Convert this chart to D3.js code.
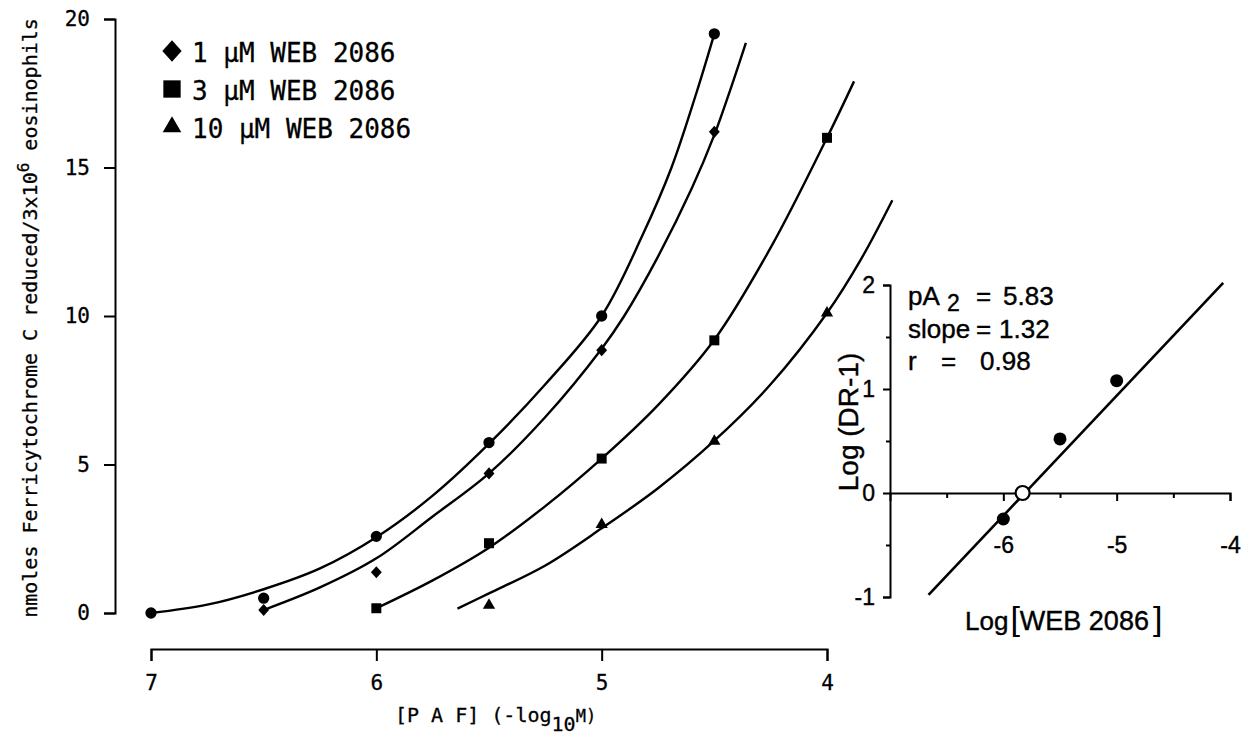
<!DOCTYPE html>
<html>
<head>
<meta charset="utf-8">
<script src="https://cdn.jsdelivr.net/npm/d3@7"></script>
<style>
    body { margin: 0; background: #fff; }
    svg { display: block; }
</style>
</head>
<body>
<div id="chart-container"></div>
<script>
// PAF dose response curves with WEB 2086, plus Schild plot inset
const svgWidth = 1247;
const svgHeight = 736;

const monoFont = "'DejaVu Sans Mono', monospace";
const sansFont = "'Liberation Sans', Arial, sans-serif";

// main chart ticks
const pafTicks = [7, 6, 5, 4];
const responseTicks = [0, 5, 10, 15, 20];

// measured points [ -log PAF, nmoles ]
const controlPoints = [[7, 0], [6.5, 0.5], [6, 2.58], [5.5, 5.74], [5, 10.0], [4.5, 19.5]];
const web1Points = [[6.5, 0.1], [6, 1.37], [5.5, 4.7], [5, 8.85], [4.5, 16.2]];
const web3Points = [[6, 0.16], [5.5, 2.35], [5, 5.2], [4.5, 9.18], [4, 16.0]];
const web10Points = [[5.5, 0.26], [5, 2.98], [4.5, 5.78], [4, 10.1]];

// fitted curves
const controlFit = [[7, 0], [6.75, 0.28], [6.5, 0.8], [6.25, 1.5], [6, 2.55], [5.75, 3.95], [5.5, 5.7],
    [5.25, 7.7], [5, 10.0], [4.82, 12.7], [4.69, 15.0], [4.58, 17.5], [4.5, 19.5]];
const web1Fit = [[6.5, 0.1], [6.25, 0.86], [6, 1.84], [5.75, 3.25], [5.5, 4.7], [5.25, 6.6], [5, 8.9],
    [4.9, 10.0], [4.75, 12.0], [4.6, 14.3], [4.5, 16.1], [4.43, 17.6], [4.36, 19.2]];
const web3Fit = [[6, 0.16], [5.75, 1.1], [5.5, 2.2], [5.25, 3.6], [5, 5.2], [4.75, 7.0], [4.5, 9.2],
    [4.25, 12.3], [4, 16.0], [3.88, 17.9]];
const web10Fit = [[5.64, 0.15], [5.5, 0.66], [5.25, 1.6], [5, 2.85], [4.75, 4.2], [4.5, 5.8], [4.25, 7.7],
    [4, 10.1], [3.85, 11.9], [3.71, 13.9]];

const legendLabels = ["1 \u00b5M WEB 2086", "3 \u00b5M WEB 2086", "10 \u00b5M WEB 2086"];

// inset (Schild plot) data
const schildXTicks = [-6, -5, -4];
const schildXMinor = [-6.5, -5.5, -4.5];
const schildYTicks = [-1, 0, 1, 2];
const schildYMinor = [-0.5, 0.5, 1.5];
const schildPoints = [[-6, -0.25], [-5.5, 0.52], [-5, 1.08]];
const schildPa2 = [[-5.83, 0]];
const schildLine = [[-6.66, -0.98], [-4.06, 2.02]];

// custom diamond, a bit wider than d3's own
const symbolRhomb = {
    draw(context, size) {
        const h = Math.sqrt(size) * 0.62;
        const w = h * 0.9;
        context.moveTo(0, -h);
        context.lineTo(w, 0);
        context.lineTo(0, h);
        context.lineTo(-w, 0);
        context.closePath();
    }
};

const series = [
    { points: controlPoints, fit: controlFit, type: d3.symbolCircle, size: 100 },
    { points: web1Points, fit: web1Fit, type: symbolRhomb, size: 95 },
    { points: web3Points, fit: web3Fit, type: d3.symbolSquare, size: 100 },
    { points: web10Points, fit: web10Fit, type: d3.symbolTriangle, size: 65 }
];

const svg = d3.select("#chart-container")
    .append("svg")
    .attr("width", svgWidth)
    .attr("height", svgHeight)
    .attr("viewBox", `0 0 ${svgWidth} ${svgHeight}`);

// scales
const x = d3.scaleLinear().domain([7, 4]).range([151, 827]);
const y = d3.scaleLinear().domain([0, 20]).range([613, 19]);

// axes
svg.append("g")
    .attr("class", "axis axis-y")
    .attr("transform", "translate(115,0)")
    .call(d3.axisLeft(y).tickValues(responseTicks).tickSize(11).tickPadding(14));

svg.append("g")
    .attr("class", "axis axis-x")
    .attr("transform", "translate(0,649)")
    .call(d3.axisBottom(x).tickValues(pafTicks).tickSize(12).tickPadding(14).tickFormat(d3.format("d")));

svg.selectAll(".axis-x, .axis-y")
    .attr("font-family", monoFont)
    .attr("font-size", 21);
svg.selectAll(".axis text")
    .attr("stroke", "#000")
    .attr("stroke-width", 0.3);
svg.selectAll(".axis path, .axis line")
    .attr("stroke", "#000")
    .attr("stroke-width", 2);

// fitted lines
const line = d3.line()
    .x(d => x(d[0]))
    .y(d => y(d[1]))
    .curve(d3.curveCatmullRom.alpha(0.5));

svg.selectAll(".fit")
    .data(series)
    .enter()
    .append("path")
    .attr("class", "fit")
    .attr("d", d => line(d.fit))
    .attr("fill", "none")
    .attr("stroke", "#000")
    .attr("stroke-width", 2.4);

// markers
series.forEach(function (s) {
    svg.append("g")
        .selectAll("path")
        .data(s.points)
        .enter()
        .append("path")
        .attr("d", d3.symbol().type(s.type).size(s.size))
        .attr("transform", d => `translate(${x(d[0])},${y(d[1])})`)
        .attr("fill", "#000");
});

// legend
const legendTypes = [symbolRhomb, d3.symbolSquare, d3.symbolTriangle];
const legendSizes = [300, 300, 150];
const legend = svg.append("g").attr("class", "legend");
legendLabels.forEach(function (label, i) {
    const baseline = 62 + i * 38;
    legend.append("path")
        .attr("d", d3.symbol().type(legendTypes[i]).size(legendSizes[i]))
        .attr("transform", `translate(172,${baseline - 11})`)
        .attr("fill", "#000");
    legend.append("text")
        .attr("x", 192)
        .attr("y", baseline)
        .attr("font-family", monoFont)
        .attr("font-size", 26)
        .attr("stroke", "#000")
        .attr("stroke-width", 0.3)
        .text(label);
});

// axis titles
const yTitle = svg.append("text")
    .attr("transform", "translate(37,318) rotate(-90)")
    .attr("text-anchor", "middle")
    .attr("font-family", monoFont)
    .attr("font-size", 20)
    .attr("stroke", "#000")
    .attr("stroke-width", 0.3);
yTitle.append("tspan").text("nmoles Ferricytochrome C reduced/3x10");
yTitle.append("tspan").attr("dy", -8).attr("font-size", 16).text("6");
yTitle.append("tspan").attr("dy", 8).text(" eosinophils");

const xTitle = svg.append("text")
    .attr("x", 395)
    .attr("y", 722)
    .attr("font-family", monoFont)
    .attr("font-size", 20)
    .attr("stroke", "#000")
    .attr("stroke-width", 0.3);
xTitle.append("tspan").text("[P A F] (-log");
xTitle.append("tspan").attr("dy", 9).text("10");
xTitle.append("tspan").attr("dy", -9).attr("font-size", 17).text("M)");

// ---------- inset ----------
const xi = d3.scaleLinear().domain([-7, -4]).range([890, 1230]);
const yi = d3.scaleLinear().domain([-1, 2]).range([597, 285]);

svg.append("g")
    .attr("class", "inset-axis")
    .attr("transform", `translate(${xi(-7)},0)`)
    .call(d3.axisLeft(yi).tickValues(schildYTicks).tickSize(7).tickPadding(8).tickFormat(d3.format("d")));
svg.append("g")
    .attr("class", "inset-axis minor")
    .attr("transform", `translate(${xi(-7)},0)`)
    .call(d3.axisLeft(yi).tickValues(schildYMinor).tickSize(4).tickFormat(""))
    .select(".domain").remove();

svg.append("g")
    .attr("class", "inset-axis")
    .attr("transform", `translate(0,${yi(0)})`)
    .call(d3.axisBottom(xi).tickValues(schildXTicks).tickSize(8).tickPadding(36).tickFormat(d3.format("d")));
svg.append("g")
    .attr("class", "inset-axis minor")
    .attr("transform", `translate(0,${yi(0)})`)
    .call(d3.axisBottom(xi).tickValues(schildXMinor).tickSize(5).tickFormat(""))
    .select(".domain").remove();

svg.selectAll(".inset-axis")
    .attr("font-family", sansFont)
    .attr("font-size", 23);
svg.selectAll(".inset-axis path, .inset-axis line")
    .attr("stroke", "#000")
    .attr("stroke-width", 2);
// minus signs as in the original (hyphen)
svg.selectAll(".inset-axis text")
    .attr("stroke", "#000")
    .attr("stroke-width", 0.4)
    .text(function () { return this.textContent.replace("\u2212", "-"); });

const schildLineGen = d3.line().x(d => xi(d[0])).y(d => yi(d[1]));
svg.append("path")
    .attr("d", schildLineGen(schildLine))
    .attr("fill", "none")
    .attr("stroke", "#000")
    .attr("stroke-width", 2.6);

svg.selectAll(".schild-pt")
    .data(schildPoints)
    .enter()
    .append("circle")
    .attr("class", "schild-pt")
    .attr("cx", d => xi(d[0]))
    .attr("cy", d => yi(d[1]))
    .attr("r", 6.5)
    .attr("fill", "#000");

svg.selectAll(".schild-pa2")
    .data(schildPa2)
    .enter()
    .append("circle")
    .attr("class", "schild-pa2")
    .attr("cx", d => xi(d[0]))
    .attr("cy", d => yi(d[1]))
    .attr("r", 7)
    .attr("fill", "#fff")
    .attr("stroke", "#000")
    .attr("stroke-width", 2.2);

// stats text
const stats = svg.append("g")
    .attr("font-family", sansFont)
    .attr("font-size", 26)
    .attr("stroke", "#000")
    .attr("stroke-width", 0.4);
stats.append("text").attr("x", 908).attr("y", 305).text("pA");
stats.append("text").attr("x", 947).attr("y", 311).attr("font-size", 23).text("2");
stats.append("text").attr("x", 976).attr("y", 305).text("=");
stats.append("text").attr("x", 1003).attr("y", 305).text("5.83");
stats.append("text").attr("x", 908).attr("y", 338).text("slope");
stats.append("text").attr("x", 976).attr("y", 338).text("=");
stats.append("text").attr("x", 999).attr("y", 338).text("1.32");
stats.append("text").attr("x", 908).attr("y", 370).text("r");
stats.append("text").attr("x", 941).attr("y", 370).text("=");
stats.append("text").attr("x", 980).attr("y", 370).text("0.98");

// inset titles
svg.append("text")
    .attr("transform", "translate(858,422) rotate(-90)")
    .attr("text-anchor", "middle")
    .attr("font-family", sansFont)
    .attr("font-size", 28)
    .attr("stroke", "#000")
    .attr("stroke-width", 0.4)
    .text("Log (DR-1)");

const insetTitle = svg.append("text")
    .attr("x", 965)
    .attr("y", 630)
    .attr("font-family", sansFont)
    .attr("font-size", 26)
    .attr("stroke", "#000")
    .attr("stroke-width", 0.4);
insetTitle.append("tspan").text("Log");
insetTitle.append("tspan").attr("dx", 2).attr("font-size", 34).attr("stroke-width", 0).text("[");
insetTitle.append("tspan").attr("font-size", 27).text("WEB 2086");
insetTitle.append("tspan").attr("dx", 4).attr("font-size", 34).attr("stroke-width", 0).text("]");
</script>
</body>
</html>
